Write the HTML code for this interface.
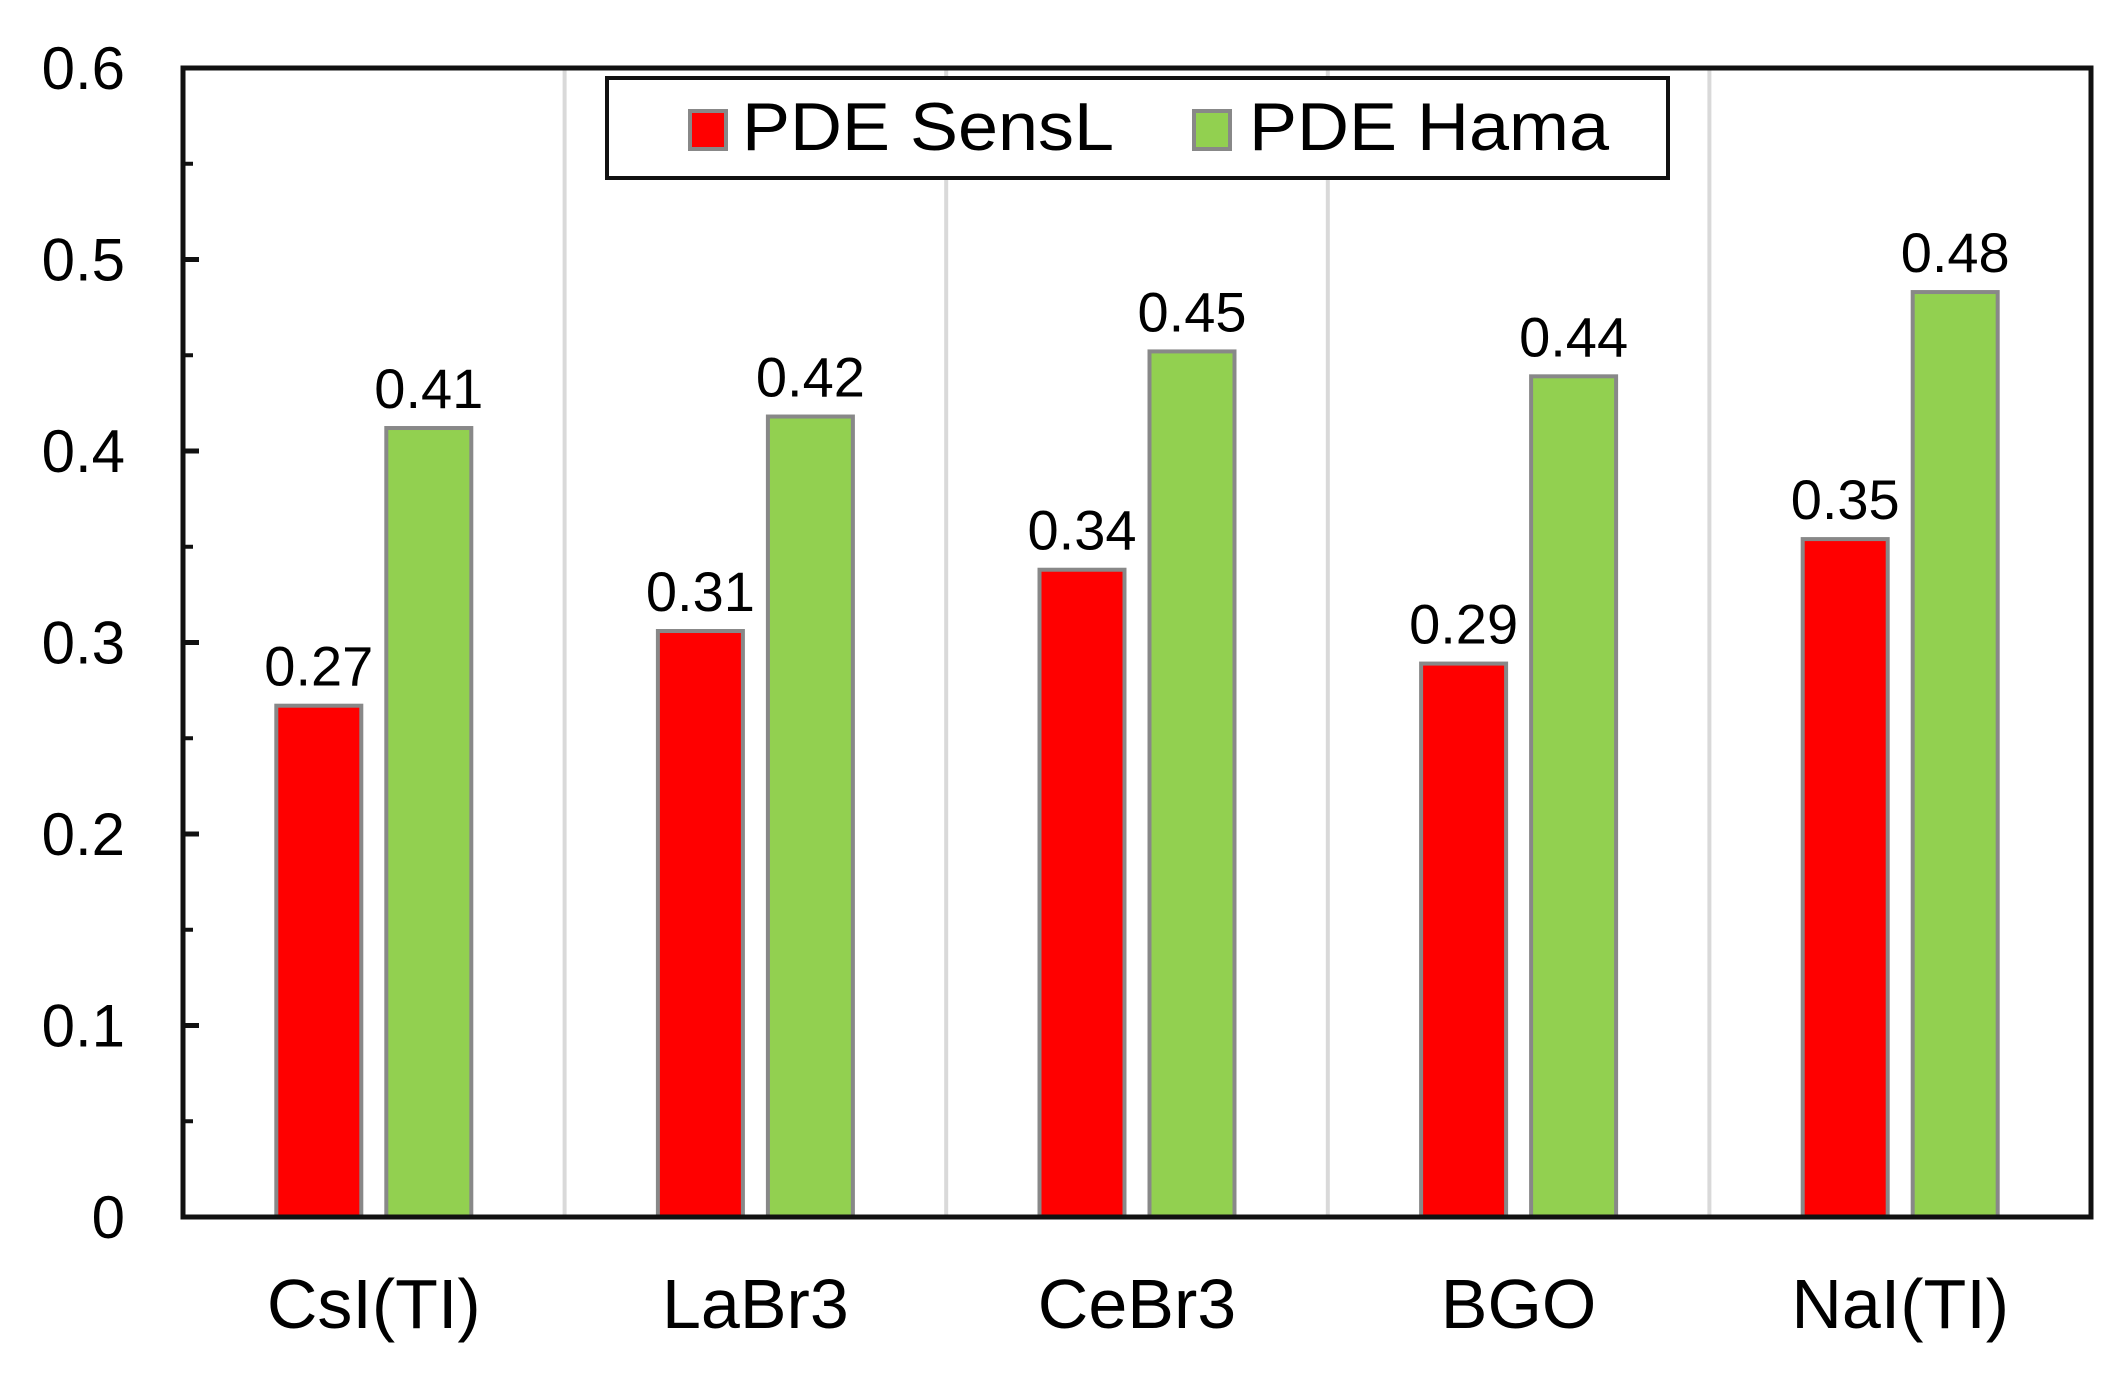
<!DOCTYPE html>
<html><head><meta charset="utf-8"><style>
html,body{margin:0;padding:0;background:#fff}
svg{display:block;font-family:"Liberation Sans",Arial,sans-serif}
</style></head><body>
<svg id="chart" width="2125" height="1387" viewBox="0 0 2125 1387" xmlns="http://www.w3.org/2000/svg">
<rect width="2125" height="1387" fill="#fff"/>
<g id="grid"></g>
<g id="bars"></g>
<g id="axes"></g>
<g id="legend">
  <rect x="607" y="78" width="1061" height="100" fill="#fff" stroke="#111" stroke-width="4"/>
  <rect x="690" y="111" width="36" height="38" fill="#ff0000" stroke="#888" stroke-width="4"/>
  <text x="742" y="150" font-size="68" textLength="372" lengthAdjust="spacingAndGlyphs">PDE SensL</text>
  <rect x="1194" y="111" width="36" height="38" fill="#92d050" stroke="#888" stroke-width="4"/>
  <text x="1249" y="150" font-size="68" textLength="360" lengthAdjust="spacingAndGlyphs">PDE Hama</text>
</g>
</svg>
<script>
const categories = ["CsI(TI)","LaBr3","CeBr3","BGO","NaI(TI)"];
const senslValues = [0.267,0.306,0.338,0.289,0.354];
const hamaValues = [0.412,0.418,0.452,0.439,0.483];
const senslLabels = ["0.27","0.31","0.34","0.29","0.35"];
const hamaLabels = ["0.41","0.42","0.45","0.44","0.48"];
const yTicks = [0,0.1,0.2,0.3,0.4,0.5,0.6];
const yTickLabels = ["0","0.1","0.2","0.3","0.4","0.5","0.6"];

const NS="http://www.w3.org/2000/svg";
const L=183,R=2091,T=68,B=1217,YMAX=0.6;
const bw=(R-L)/categories.length;
function y(v){return B-(v/YMAX)*(B-T);}
function xc(i){return L+bw*(i+0.5);}
function mk(tag,attrs,parent,text){const e=document.createElementNS(NS,tag);for(const k in attrs)e.setAttribute(k,attrs[k]);if(text!==undefined)e.textContent=text;parent.appendChild(e);return e;}
const grid=document.getElementById('grid'),bars=document.getElementById('bars'),axes=document.getElementById('axes');

for(let i=1;i<categories.length;i++){
  const s=mk('line',{x1:L+bw*i,x2:L+bw*i,y1:T,y2:B,stroke:'#d9d9d9','stroke-width':4},grid);
  
  
}
const barW=85,off=55;
categories.forEach((c,i)=>{
  const r=mk('rect',{x:xc(i)-off-barW/2,y:y(senslValues[i]),width:barW,height:B-y(senslValues[i]),fill:'#ff0000',stroke:'#888','stroke-width':4},bars);
  
  
  const g=mk('rect',{x:xc(i)+off-barW/2,y:y(hamaValues[i]),width:barW,height:B-y(hamaValues[i]),fill:'#92d050',stroke:'#888','stroke-width':4},bars);
  
  
  const t1=mk('text',{x:xc(i)-off,y:y(senslValues[i])-20,'font-size':56,'text-anchor':'middle'},bars,senslLabels[i]);
  
  
  const t2=mk('text',{x:xc(i)+off,y:y(hamaValues[i])-20,'font-size':56,'text-anchor':'middle'},bars,hamaLabels[i]);
  
  
  const xl=mk('text',{x:xc(i),y:1328,'font-size':70,'text-anchor':'middle'},axes,c);
  
  
});
const frame=mk('rect',{x:L,y:T,width:R-L,height:B-T,fill:'none',stroke:'#111','stroke-width':5},axes);


yTicks.forEach((v,i)=>{
  const tk=mk('line',{x1:L,x2:L+16,y1:y(v),y2:y(v),stroke:'#111','stroke-width':5},axes);
  
  
  if(i<yTicks.length-1){
    const mt=mk('line',{x1:L,x2:L+10,y1:y(v+0.05),y2:y(v+0.05),stroke:'#111','stroke-width':4},axes);
    
    
  }
  const tl=mk('text',{x:125,y:y(v)+21,'font-size':60,'text-anchor':'end'},axes,yTickLabels[i]);
  
  
});
</script>
</body></html>
